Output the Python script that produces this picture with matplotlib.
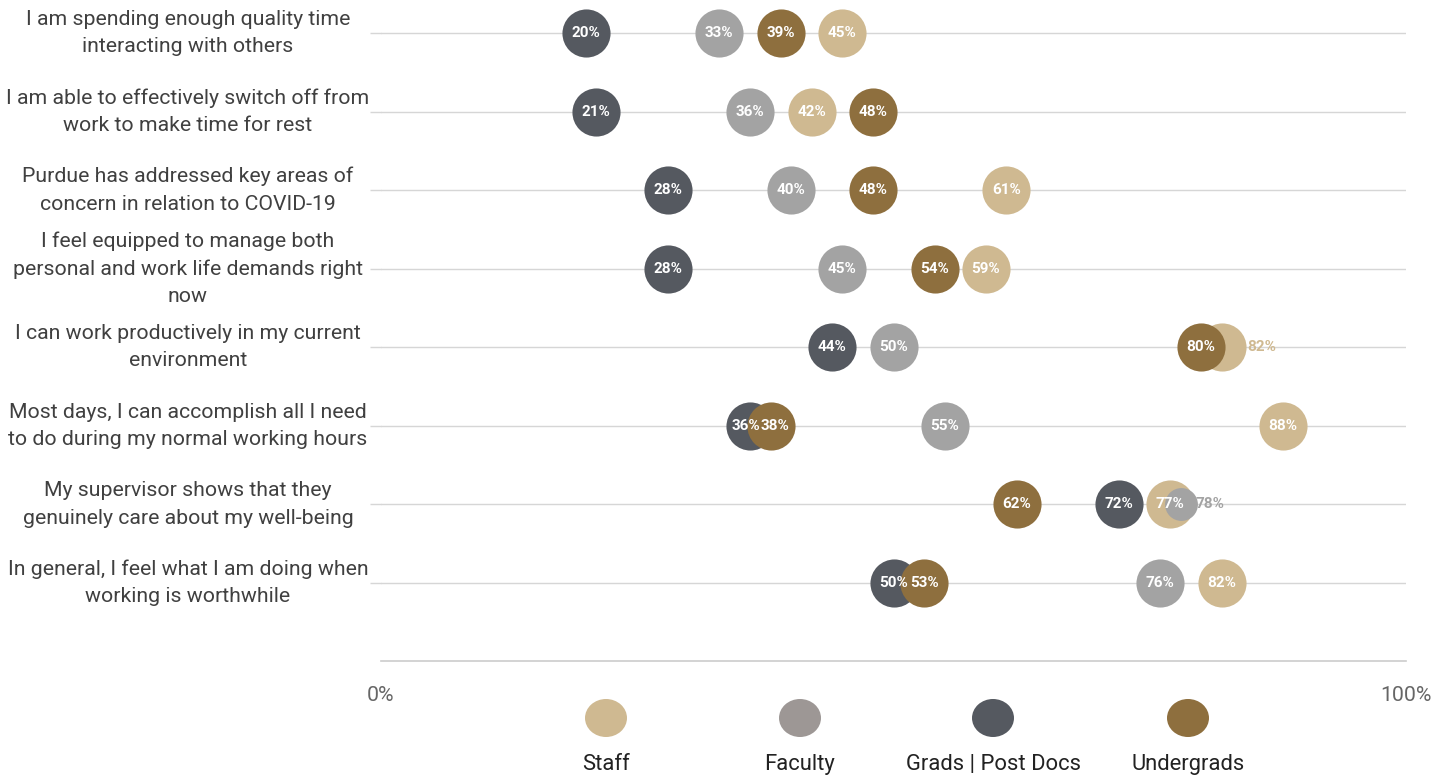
import matplotlib
matplotlib.use("Agg")
import matplotlib.pyplot as plt
from matplotlib.patches import Ellipse

plt.rcParams['font.family'] = ['Roboto', 'DejaVu Sans']

statements = [
    "I am spending enough quality time\ninteracting with others",
    "I am able to effectively switch off from\nwork to make time for rest",
    "Purdue has addressed key areas of\nconcern in relation to COVID-19",
    "I feel equipped to manage both\npersonal and work life demands right\nnow",
    "I can work productively in my current\nenvironment",
    "Most days, I can accomplish all I need\nto do during my normal working hours",
    "My supervisor shows that they\ngenuinely care about my well-being",
    "In general, I feel what I am doing when\nworking is worthwhile",
]
series_names = ["Staff", "Faculty", "Grads | Post Docs", "Undergrads"]
staff = [45, 42, 61, 59, 82, 88, 77, 82]
faculty = [33, 36, 40, 45, 50, 55, 78, 76]
grads = [20, 21, 28, 28, 44, 36, 72, 50]
undergrads = [39, 48, 48, 54, 80, 38, 62, 53]
x_tick_labels = ["0%", "100%"]

colors = ["#CFB991", "#A3A3A3", "#555960", "#8E6F3E"]
legend_colors = ["#CFB991", "#9D9795", "#555960", "#8E6F3E"]
series = [staff, faculty, grads, undergrads]

# points whose label sits outside (overlapped), and points drawn smaller
outside = {(4, 0), (6, 1)}
small = {(6, 1)}
MIN_SEP = 2.9  # minimum label separation in data units

W, H = 1449, 776
fig = plt.figure(figsize=(W / 100, H / 100), dpi=100)
ax = fig.add_axes([381 / W, 1 - 661 / H, (1406 - 381) / W, 661 / H])
n = len(statements)
step = 78.6
ax.set_ylim(7 + 78 / step, -33 / step)
ax.set_xlim(0, 100)

for i in range(n):
    ax.axhline(i, color="#d6d6d6", lw=1.0, zorder=0)

for si, (vals, col) in enumerate(zip(series, colors)):
    for i, v in enumerate(vals):
        s = 560 if (i, si) in small else 1200
        ax.scatter([v], [i], s=s, color=col, zorder=2 + si, linewidths=0)

# label positions with simple collision avoidance for inside labels
for i in range(n):
    inside = [(series[si][i], si) for si in range(4) if (i, si) not in outside]
    inside.sort()
    pos = {si: float(v) for v, si in inside}
    for (v1, s1), (v2, s2) in zip(inside, inside[1:]):
        if pos[s2] - pos[s1] < MIN_SEP:
            mid = (pos[s1] + pos[s2]) / 2
            pos[s1] = mid - MIN_SEP / 2
            pos[s2] = mid + MIN_SEP / 2
    for si in range(4):
        v = series[si][i]
        col = colors[si]
        if (i, si) in outside:
            ax.annotate(f"{v}%", (v, i), xytext=(11 if (i, si) in small else 18.5, 0),
                        textcoords="offset points", va="center", ha="left",
                        color=col, fontsize=11, fontweight="bold", zorder=10)
        else:
            ax.text(pos[si], i, f"{v}%", ha="center", va="center", color="white",
                    fontsize=11, fontweight="bold", zorder=10)

ax.set_yticks(range(n))
ax.set_yticklabels([])
ax.tick_params(axis="y", length=8, color="#d6d6d6", width=1)
for i, txt in enumerate(statements):
    ax.text(-(381 - 188) / 10.25, i, txt, transform=ax.transData, ha="center", va="center",
            fontsize=15.3, color="#404040", linespacing=1.55)

ax.set_xticks([0, 100])
ax.set_xticklabels(x_tick_labels, fontsize=15.3, color="#666666")
ax.tick_params(axis="x", length=0, pad=18)

for sp in ["top", "right", "left"]:
    ax.spines[sp].set_visible(False)
ax.spines["bottom"].set_color("#cccccc")
ax.spines["bottom"].set_linewidth(1.2)

legend_x = [606, 800, 993, 1188]
for name, col, lx in zip(series_names, legend_colors, legend_x):
    fig.add_artist(Ellipse((lx / W, 1 - 718 / H), 42 / W, 38 / H,
                           transform=fig.transFigure, color=col, lw=0))
    fig.text(lx / W, 1 - 770 / H, name, ha="center", va="baseline",
             fontsize=15.8, color="#222222")

fig.savefig("out.png", dpi=100)
